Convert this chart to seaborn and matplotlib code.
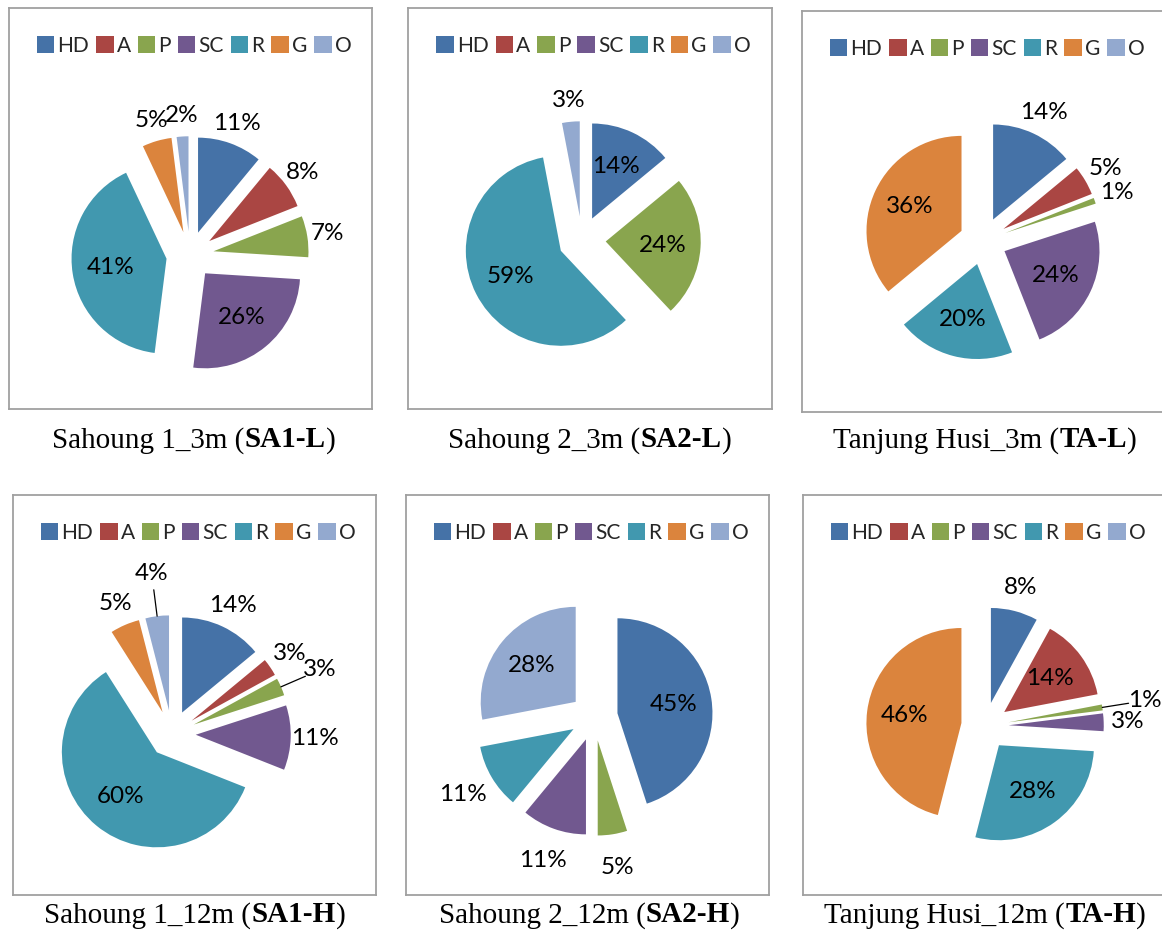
import numpy as np
import matplotlib
matplotlib.use("Agg")
import matplotlib.pyplot as plt
from matplotlib.patches import Patch
from matplotlib.offsetbox import TextArea, HPacker, AnchoredOffsetbox
import seaborn as sns

# categories and values (%)
categories = ['HD', 'A', 'P', 'SC', 'R', 'G', 'O']
colors = ['#4572A7', '#AA4643', '#89A54E', '#71588F', '#4198AF', '#DB843D', '#93A9CF']

sa1_l = [11, 8, 7, 26, 41, 5, 2]
sa2_l = [14, 0, 24, 0, 59, 0, 3]
ta_l = [14, 5, 1, 24, 20, 36, 0]
sa1_h = [14, 3, 3, 11, 60, 5, 4]
sa2_h = [45, 0, 5, 11, 11, 0, 28]
ta_h = [8, 14, 1, 3, 28, 46, 0]

site_names = ['Sahoung 1_3m', 'Sahoung 2_3m', 'Tanjung Husi_3m',
              'Sahoung 1_12m', 'Sahoung 2_12m', 'Tanjung Husi_12m']
site_codes = ['SA1-L', 'SA2-L', 'TA-L', 'SA1-H', 'SA2-H', 'TA-H']

# where each label goes: inside, outside, outside with leader line
label_modes = [
    ['out', 'out', 'out', 'in', 'in', 'out', 'out'],
    ['in', 'out', 'in', 'out', 'in', 'out', 'out'],
    ['out', 'out', 'out', 'in', 'in', 'in', 'out'],
    ['out', 'out', 'lead', 'out', 'in', 'out', 'lead'],
    ['in', 'out', 'out', 'out', 'out', 'out', 'in'],
    ['out', 'in', 'lead', 'out', 'in', 'in', 'out'],
]

sns.set_theme(style="white")
plt.rcParams['font.family'] = ['Lato', 'DejaVu Sans']

W, H = 1162, 933
fig = plt.figure(figsize=(W / 100, H / 100), dpi=100)

# panel boxes in pixels (left, top, width, height) and pie centre inside box
boxes = [(9, 8, 363, 401), (408, 8, 364, 401), (802, 11, 363, 401),
         (13, 495, 363, 400), (406, 495, 363, 400), (803, 495, 363, 400)]
centers = [(181, 247), (174, 232), (181, 230), (159, 239), (188, 222), (182, 231)]
caption_pos = [(194, 440), (590, 440), (985, 440), (195, 915), (589, 915), (985, 915)]
R = 95.0
all_data = [sa1_l, sa2_l, ta_l, sa1_h, sa2_h, ta_h]
out_dist = [1.22, 1.22, 1.25, 1.25, 1.35, 1.25]

for i, vals in enumerate(all_data):
    x0, y0, w, h = boxes[i]
    ax = fig.add_axes([x0 / W, 1 - (y0 + h) / H, w / W, h / H])
    keep = [k for k, v in enumerate(vals) if v > 0]
    v = [vals[k] for k in keep]
    c = [colors[k] for k in keep]
    wedges, _ = ax.pie(v, colors=c, startangle=90, counterclock=False,
                       explode=[0.25] * len(v), radius=1,
                       wedgeprops=dict(linewidth=0))
    cx, cy = centers[i]
    ax.set_aspect('auto')
    ax.set_xlim(-cx / R, (w - cx) / R)
    ax.set_ylim(-(h - cy) / R, cy / R)
    ax.set_frame_on(True)
    for s in ax.spines.values():
        s.set_color('#A0A0A0')
        s.set_linewidth(1.3)
    ax.set_xticks([])
    ax.set_yticks([])

    for wdg, k in zip(wedges, keep):
        th = np.deg2rad((wdg.theta1 + wdg.theta2) / 2)
        ux, uy = np.cos(th), np.sin(th)
        mx, my = wdg.center
        mode = label_modes[i][k]
        if mode == 'in':
            d = 0.6
        elif mode == 'out':
            d = out_dist[i]
        else:
            d = 1.45
            ax.plot([mx + 1.0 * ux, mx + 1.28 * ux], [my + 1.0 * uy, my + 1.28 * uy],
                    color='black', lw=0.9)
        ax.text(mx + d * ux, my + d * uy, f"{vals[k]}%", ha='center', va='center',
                fontsize=17.5, color='black')

    handles = [Patch(facecolor=col, edgecolor='none') for col in colors]
    ax.legend(handles, categories, loc='center', bbox_to_anchor=(0.51, 1 - 38 / h),
              ncol=7, frameon=False, fontsize=15, handlelength=0.85, handleheight=0.85,
              handletextpad=0.15, columnspacing=0.32, borderpad=0)

    # caption with bold site code
    tp = dict(fontfamily='Liberation Serif', fontsize=21, color='black')
    tb = dict(fontfamily='Liberation Serif', fontsize=21, color='black', fontweight='bold')
    pack = HPacker(children=[TextArea(site_names[i] + ' (', textprops=tp),
                             TextArea(site_codes[i], textprops=tb),
                             TextArea(')', textprops=tp)],
                   align='baseline', pad=0, sep=0)
    px, py = caption_pos[i]
    box = AnchoredOffsetbox(loc='center', child=pack, frameon=False, pad=0, borderpad=0,
                            bbox_to_anchor=(px / W, 1 - py / H),
                            bbox_transform=fig.transFigure)
    fig.add_artist(box)

fig.savefig('out.png', dpi=100)
